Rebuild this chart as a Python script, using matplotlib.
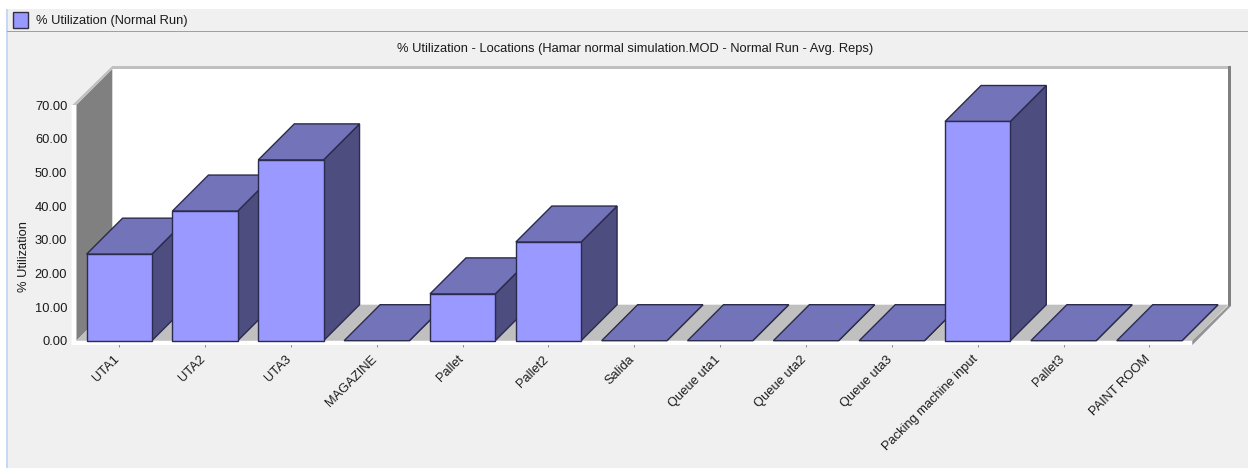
import matplotlib
matplotlib.use("Agg")
import matplotlib.pyplot as plt
from matplotlib.patches import Polygon, Rectangle
from matplotlib.transforms import ScaledTranslation

plt.rcParams['font.family'] = ['Liberation Sans', 'DejaVu Sans']

locations = ['UTA1', 'UTA2', 'UTA3', 'MAGAZINE', 'Pallet', 'Pallet2', 'Salida',
             'Queue uta1', 'Queue uta2', 'Queue uta3', 'Packing machine input',
             'Pallet3', 'PAINT ROOM']
utilization = [25.7, 38.5, 53.7, 0.0, 13.9, 29.3, 0.0, 0.0, 0.0, 0.0, 65.1, 0.0, 0.0]
y_ticks = [0, 10, 20, 30, 40, 50, 60, 70]

W, H = 1248, 468
AX_L, AX_R, AX_T, AX_B = 76.3, 1192.3, 105, 340.7
DEPTH_PX = 36
BAR_W = 0.76

BG = '#f0f0f0'
FACE = '#9999ff'
TOP = '#7373b9'
SIDE = '#4d4d80'
EDGE = '#2b2b4d'
TEXT = '#1a1a1a'
FS = 9.3

fig = plt.figure(figsize=(W / 100, H / 100), dpi=100, facecolor=BG)


# window chrome is laid out in pixels from the top left corner
def chrome_rect(x, y, w, h, color, **kw):
    fig.add_artist(Rectangle((x / W, 1 - (y + h) / H), w / W, h / H, transform=fig.transFigure,
                             facecolor=color, edgecolor=kw.pop('edge', 'none'), **kw))


chrome_rect(0, 0, W, 9, 'white')
chrome_rect(0, 0, 6, H, 'white')
chrome_rect(6, 9, 1.5, H, '#c5d9f1')
chrome_rect(7, 31, W, 1, '#a0a0a0')
chrome_rect(13, 12, 15, 16, FACE, edge='#303040', linewidth=1)
fig.text(36 / W, 1 - 21 / H, '% Utilization (Normal Run)', fontsize=FS, color=TEXT, va='center')
fig.text(635 / W, 1 - 49 / H, '% Utilization - Locations (Hamar normal simulation.MOD - Normal Run - Avg. Reps)',
         fontsize=FS, color=TEXT, ha='center', va='center')

ax = fig.add_axes([AX_L / W, 1 - AX_B / H, (AX_R - AX_L) / W, (AX_B - AX_T) / H])
ax.patch.set_visible(False)
ax.set_xlim(-0.5, len(locations) - 0.5)
ax.set_ylim(0, 70)
for s in ax.spines.values():
    s.set_visible(False)

# depth of the 3d projection in data units
dx = DEPTH_PX / ((AX_R - AX_L) / len(locations))
dy = DEPTH_PX / ((AX_B - AX_T) / 70)
x0, x1 = ax.get_xlim()
rim = 0.035


def poly(pts, color, z, edge='none', lw=0):
    ax.add_patch(Polygon(pts, closed=True, facecolor=color, edgecolor=edge, linewidth=lw,
                         zorder=z, clip_on=False, joinstyle='miter'))


# back wall, left wall, floor and their borders
top = 70 + dy
poly([(x0 + dx, dy), (x1 + dx, dy), (x1 + dx, top), (x0 + dx, top)], 'white', 1)
poly([(x0 + dx, top), (x1 + dx + rim, top), (x1 + dx + rim, top + 0.9), (x0 + dx, top + 0.9)], '#c0c0c0', 1)
poly([(x1 + dx, dy - 0.3), (x1 + dx + rim, dy - 0.3), (x1 + dx + rim, top + 0.9), (x1 + dx, top + 0.9)], '#808080', 1.05)
poly([(x0, 0), (x0 + dx, dy), (x0 + dx, top), (x0, 70)], '#808080', 1)
poly([(x0, 70), (x0 + dx, top), (x0 + dx, top + 0.9), (x0 - 0.045, 70)], '#c0c0c0', 1)
poly([(x0, 0), (x1, 0), (x1 + dx, dy), (x0 + dx, dy)], '#c0c0c0', 1)

# white strips along the front edges, these hide the upper part of the ticks
poly([(x0 - 0.055, -1.3), (x1, -1.3), (x1, 0), (x0, 0)], 'white', 1.1)
poly([(x0 - 0.055, -1.3), (x0, 0), (x0, 70), (x0 - 0.055, 70)], 'white', 1.1)

# gray rim running down from the back wall to the front corner
poly([(x1, -1.3), (x1 + dx + rim, dy - 0.3), (x1 + dx, dy - 0.3), (x1, 0)], '#939393', 1.2)

# bars go left to right so each one covers the side of the previous one
for i, v in enumerate(utilization):
    l, r = i - BAR_W / 2, i + BAR_W / 2
    z = 3 + i * 0.1
    poly([(r, 0), (r + dx, dy), (r + dx, v + dy), (r, v)], SIDE, z, EDGE, 1.0)
    poly([(l, v), (r, v), (r + dx, v + dy), (l + dx, v + dy)], TOP, z, EDGE, 1.0)
    if v > 0:
        poly([(l, 0), (r, 0), (r, v), (l, v)], FACE, z, EDGE, 1.0)

ax.set_axisbelow(True)
ax.set_xticks(range(len(locations)))
ax.set_xticklabels(locations, rotation=45, ha='right', va='top', rotation_mode='anchor',
                   fontsize=FS, color=TEXT)
ax.set_yticks(y_ticks)
ax.set_yticklabels([f'{t:.2f}' for t in y_ticks], fontsize=FS, color=TEXT)
ax.tick_params(axis='x', length=4.6, width=0.7, color='#909090', pad=4.5)
ax.tick_params(axis='y', length=0, pad=6.5)

# nudge the slanted labels so their ends sit just under the ticks
shift = ScaledTranslation(-5.5 / 100, 0, fig.dpi_scale_trans)
for lab in ax.get_xticklabels():
    lab.set_transform(lab.get_transform() + shift)

ax.set_ylabel('% Utilization', fontsize=FS, color=TEXT)
ax.yaxis.set_label_coords((30 - AX_L) / (AX_R - AX_L), (AX_B - 257) / (AX_B - AX_T))

fig.savefig('out.png', dpi=100, facecolor=BG)
